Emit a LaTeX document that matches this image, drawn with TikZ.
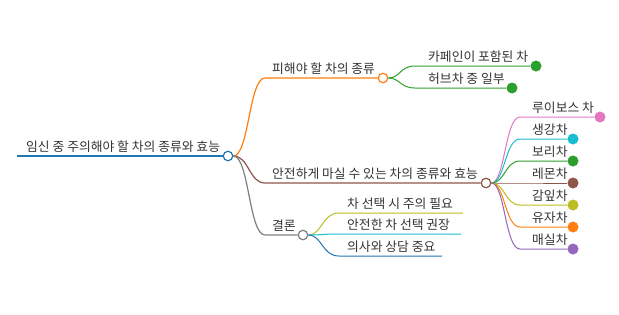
\documentclass[tikz,border=0pt]{standalone}
\usepackage{fontspec}
\newfontfamily\kr{Noto Sans CJK KR}
\usetikzlibrary{math}
\definecolor{mblue}{HTML}{1F77B4}
\definecolor{morange}{HTML}{FF7F0E}
\definecolor{mgreen}{HTML}{2CA02C}
\definecolor{mbrown}{HTML}{8C564B}
\definecolor{mpink}{HTML}{E377C2}
\definecolor{mgray}{HTML}{7F7F7F}
\definecolor{molive}{HTML}{BCBD22}
\definecolor{mcyan}{HTML}{17BECF}
\definecolor{mpurple}{HTML}{9467BD}
\definecolor{mtext}{HTML}{333333}

\begin{document}
\begin{tikzpicture}[x=1pt,y=-1pt,
  lbl/.style={anchor=base west,inner sep=0pt,text=mtext,font=\kr\fontsize{12.8}{14}\selectfont},
  hub/.style={circle,draw=#1,fill=white,line width=1.2pt,minimum size=9.5pt,inner sep=0pt},
  leaf/.style={circle,fill=#1,minimum size=11pt,inner sep=0pt},
  link/.style={draw=#1,line width=1.2pt}]
\useasboundingbox (0,0) rectangle (619,314);

%root
\coordinate (r0) at (17,156);
\node[hub=mblue] (root) at (228,156) {};
\draw[link=mblue,line width=1.5pt] (r0) -- (root.west);
\node[lbl] (rootlbl) at (26,151.5) {임신 중 주의해야 할 차의 종류와 효능};

%main branches
\node[hub=morange] (avoid) at (383,78) {};
\node[hub=mbrown] (safe) at (486,183) {};
\node[hub=mgray] (concl) at (303,235) {};
\coordinate (avoid0) at (265,78);
\coordinate (safe0) at (265,183);
\coordinate (concl0) at (265,235);
\draw[link=morange] (root.east) .. controls (249,156) and (249,78) .. (avoid0) -- (avoid.west);
\draw[link=mbrown] (root.east) .. controls (249,156) and (249,183) .. (safe0) -- (safe.west);
\draw[link=mgray] (root.east) .. controls (249,156) and (249,235) .. (concl0) -- (concl.west);
\node[lbl] (avoidlbl) at (272,73.5) {피해야 할 차의 종류};
\node[lbl] (safelbl) at (272,178.5) {안전하게 마실 수 있는 차의 종류와 효능};
\node[lbl] (concllbl) at (272,230.5) {결론};

%teas to avoid
\foreach \n/\yy/\xe/\txt in {caf/66/536/카페인이 포함된 차, herb/88/512/허브차 중 일부}{
  \coordinate (\n0) at (415,\yy);
  \node[leaf=mgreen] (\n) at (\xe,\yy) {};
  \draw[link=mgreen,line width=1pt] (avoid.east) .. controls (400,78) and (400,\yy) .. (\n0) -- (\n);
  \node[lbl] (\n lbl) at (428,\yy-4.5) {\txt};
}

%safe teas
\foreach \n/\yy/\xe/\col/\txt in {rooibos/117/600/mpink/루이보스 차, ginger/139/573/mcyan/생강차,
  barley/161/573/mgreen/보리차, lemon/183/573/mbrown/레몬차, persim/205/573/molive/감잎차,
  yuja/227/573/morange/유자차, maesil/249/573/mpurple/매실차}{
  \coordinate (\n0) at (520,\yy);
  \node[leaf=\col] (\n) at (\xe,\yy) {};
  \draw[link=\col,line width=1pt] (safe.east) .. controls (505,183) and (505,\yy) .. (\n0) -- (\n);
  \node[lbl] (\n lbl) at (532,\yy-4.5) {\txt};
}

%conclusion
\foreach \n/\yy/\xe/\col/\txt in {caution/213/463/molive/차 선택 시 주의 필요,
  recom/234/461/mcyan/안전한 차 선택 권장, doctor/256/442/mblue/의사와 상담 중요}{
  \coordinate (\n0) at (339,\yy);
  \coordinate (\n1) at (\xe,\yy);
  \draw[link=\col,line width=1pt] (concl.east) .. controls (322,235) and (322,\yy) .. (\n0) -- (\n1);
  \node[lbl] (\n lbl) at (347,\yy-4.5) {\txt};
}

\end{tikzpicture}
\end{document}
